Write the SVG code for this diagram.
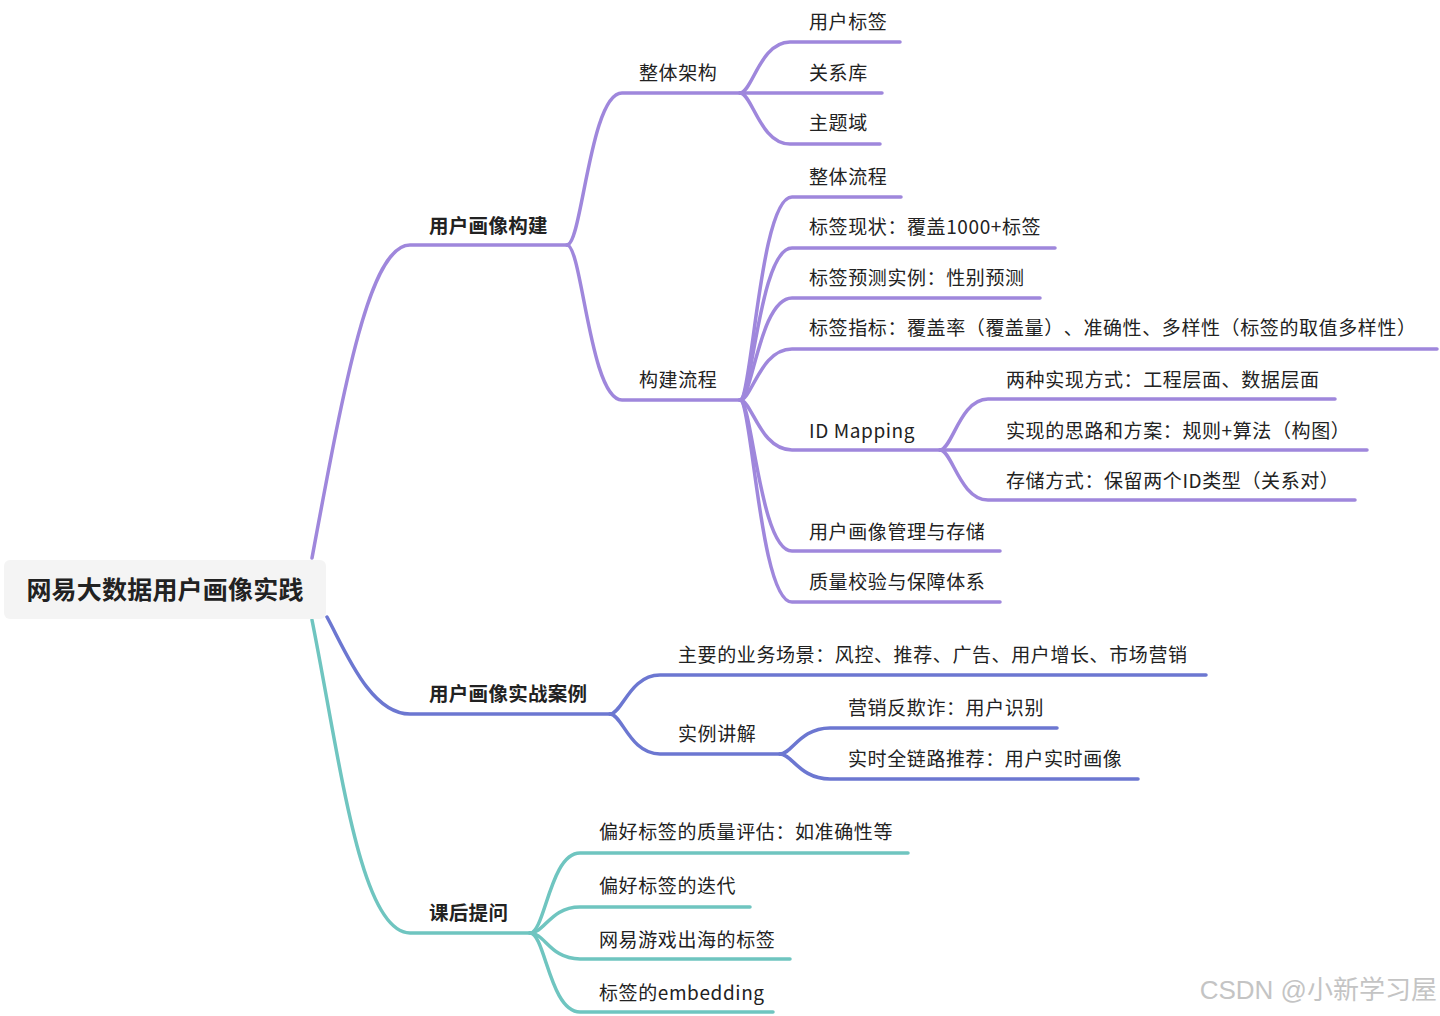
<svg xmlns="http://www.w3.org/2000/svg" width="1440" height="1016" viewBox="0 0 1440 1016">
<style>
text{text-spacing-trim:space-all}
.t{font-family:"Noto Sans CJK SC","Noto Sans",sans-serif;font-size:19px;fill:#222;letter-spacing:0.6px}
.b{font-weight:600;font-size:19.5px;letter-spacing:0.3px}
.root{font-family:"Noto Sans CJK SC","Noto Sans",sans-serif;font-size:25px;font-weight:600;fill:#222;letter-spacing:0.2px}
.c{fill:none;stroke-width:3.5;stroke-linecap:round;stroke-linejoin:round}
.p{stroke:#9f87dc}
.u{stroke:#6c77d1}
.g{stroke:#6fc5c0}
.wm{font-family:"Liberation Sans","Noto Sans CJK SC",sans-serif;font-size:26px;fill:#c4c4c4}
</style>
<rect width="1440" height="1016" fill="#ffffff"/>
<g id="connectors">
  <path class="c p" d="M312,558 C345,380 370,245 410,245 L567,245"/>
  <path class="c p" d="M567,245 C582,245 590,93 622,93 L740,93"/>
  <path class="c p" d="M567,245 C582,245 590,400 622,400 L740,400"/>
  <path class="c p" d="M740,93 C752,93 760,42 790,42 L900,42"/>
  <path class="c p" d="M740,93 L882,93"/>
  <path class="c p" d="M740,93 C752,93 760,144 790,144 L880,144"/>
  <path class="c p" d="M740,400 C752,400 760,197 792,197 L901,197"/>
  <path class="c p" d="M740,400 C752,400 760,248 792,248 L1055,248"/>
  <path class="c p" d="M740,400 C752,400 760,298 792,298 L1040,298"/>
  <path class="c p" d="M740,400 C752,400 760,349 792,349 L1437,349"/>
  <path class="c p" d="M740,400 C752,400 760,450 792,450 L940,450"/>
  <path class="c p" d="M740,400 C752,400 760,551 792,551 L1000,551"/>
  <path class="c p" d="M740,400 C752,400 760,602 792,602 L1000,602"/>
  <path class="c p" d="M940,450 C952,450 960,399 988,399 L1335,399"/>
  <path class="c p" d="M940,450 L1367,450"/>
  <path class="c p" d="M940,450 C952,450 960,500 988,500 L1355,500"/>
  <path class="c u" d="M327,617 C345,650 370,714 410,714 L610,714"/>
  <path class="c u" d="M610,714 C622,714 630,675 660,675 L1206,675"/>
  <path class="c u" d="M610,714 C622,714 630,754 660,754 L780,754"/>
  <path class="c u" d="M780,754 C792,754 800,728 830,728 L1057,728"/>
  <path class="c u" d="M780,754 C792,754 800,779 830,779 L1138,779"/>
  <path class="c g" d="M312,620 C340,760 360,933 410,933 L530,933"/>
  <path class="c g" d="M530,933 C545,933 550,853 580,853 L908,853"/>
  <path class="c g" d="M530,933 C545,933 550,907 580,907 L750,907"/>
  <path class="c g" d="M530,933 C545,933 550,959 580,959 L790,959"/>
  <path class="c g" d="M530,933 C545,933 550,1012 580,1012 L773,1012"/>
</g>
<g id="root">
  <rect x="4" y="560" width="322" height="59" rx="6" fill="#f4f4f4"/>
  <text class="root" x="165" y="599" text-anchor="middle">网易大数据用户画像实践</text>
</g>
<g id="n-build"><text class="t b" x="429" y="233">用户画像构建</text></g>
<g id="n-arch"><text class="t" x="639" y="80">整体架构</text></g>
<g id="n-usertag"><text class="t" x="809" y="29">用户标签</text></g>
<g id="n-reldb"><text class="t" x="809" y="80">关系库</text></g>
<g id="n-subject"><text class="t" x="809" y="130">主题域</text></g>
<g id="n-flow"><text class="t" x="639" y="387">构建流程</text></g>
<g id="n-overall"><text class="t" x="809" y="184">整体流程</text></g>
<g id="n-status"><text class="t" x="809" y="234">标签现状：覆盖1000+标签</text></g>
<g id="n-predict"><text class="t" x="809" y="285">标签预测实例：性别预测</text></g>
<g id="n-metric"><text class="t" x="809" y="335">标签指标：覆盖率（覆盖量）、准确性、多样性（标签的取值多样性）</text></g>
<g id="n-idmap"><text class="t" x="809" y="438">ID Mapping</text></g>
<g id="n-id1"><text class="t" x="1006" y="387">两种实现方式：工程层面、数据层面</text></g>
<g id="n-id2"><text class="t" x="1006" y="438">实现的思路和方案：规则+算法（构图）</text></g>
<g id="n-id3"><text class="t" x="1006" y="488">存储方式：保留两个ID类型（关系对）</text></g>
<g id="n-manage"><text class="t" x="809" y="539">用户画像管理与存储</text></g>
<g id="n-quality"><text class="t" x="809" y="589">质量校验与保障体系</text></g>
<g id="n-case"><text class="t b" x="429" y="701">用户画像实战案例</text></g>
<g id="n-scene"><text class="t" x="678" y="662">主要的业务场景：风控、推荐、广告、用户增长、市场营销</text></g>
<g id="n-example"><text class="t" x="678" y="741">实例讲解</text></g>
<g id="n-fraud"><text class="t" x="848" y="715">营销反欺诈：用户识别</text></g>
<g id="n-realtime"><text class="t" x="848" y="766">实时全链路推荐：用户实时画像</text></g>
<g id="n-qa"><text class="t b" x="429" y="920">课后提问</text></g>
<g id="n-q1"><text class="t" x="599" y="839">偏好标签的质量评估：如准确性等</text></g>
<g id="n-q2"><text class="t" x="599" y="893">偏好标签的迭代</text></g>
<g id="n-q3"><text class="t" x="599" y="947">网易游戏出海的标签</text></g>
<g id="n-q4"><text class="t" x="599" y="1000">标签的embedding</text></g>
<text class="wm" x="1437" y="999" text-anchor="end">CSDN @小新学习屋</text>
</svg>
